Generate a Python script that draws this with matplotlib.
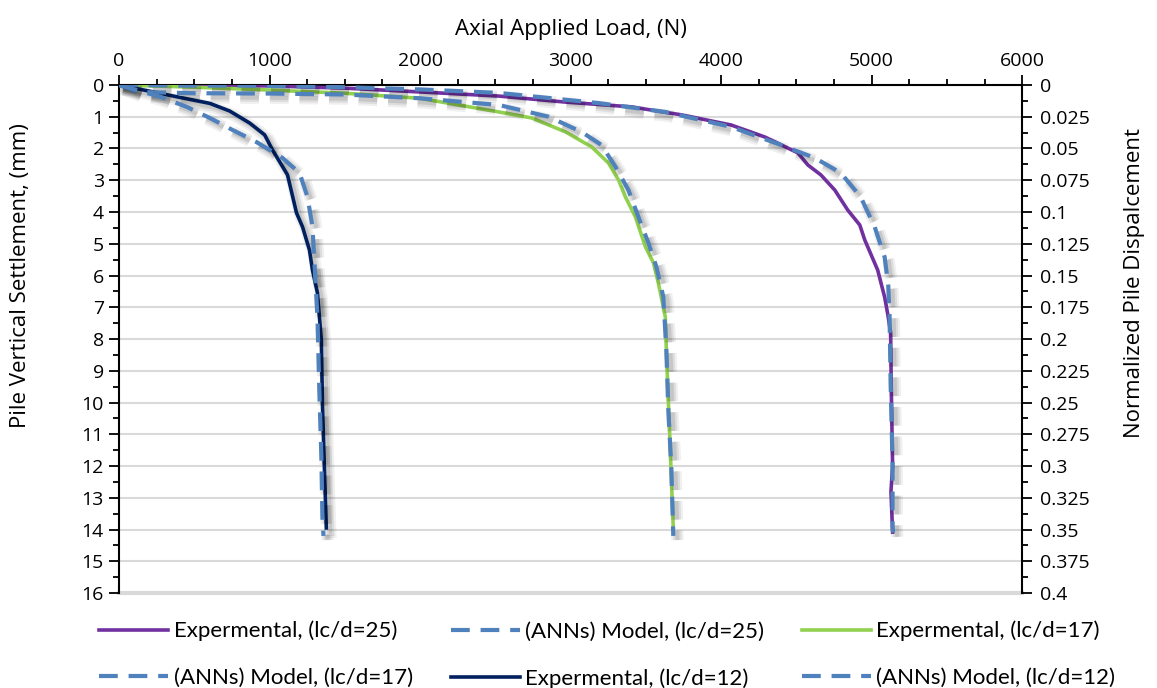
import numpy as np
import matplotlib.pyplot as plt
import matplotlib.patheffects as pe
from matplotlib.ticker import MultipleLocator

# experimental and ANN curves: load (N) vs settlement (mm)
exp25_load = [0, 500, 1000, 1500, 2000, 2523, 2967, 3404, 3735, 4066, 4291, 4510, 4576, 4662,
              4755, 4841, 4921, 4954, 5040, 5086, 5106, 5126, 5130, 5139, 5128, 5139]
exp25_set = [0, 0.01, 0.03, 0.1, 0.22, 0.35, 0.54, 0.69, 0.94, 1.26, 1.64, 2.14, 2.52, 2.83,
             3.31, 3.94, 4.41, 4.88, 5.83, 6.68, 7.2, 7.8, 9.5, 12.0, 12.8, 14.08]
ann25_load = [0, 400, 850, 1500, 2000, 2523, 3185, 3629, 4066, 4397, 4623, 4795, 4927, 5020,
              5086, 5110, 5119, 5126, 5139, 5139, 5142]
ann25_set = [0, 0.02, 0.02, 0.07, 0.14, 0.25, 0.57, 0.85, 1.32, 1.89, 2.3, 2.77, 3.53, 4.47,
             5.42, 6.3, 7.3, 9.4, 12.0, 13.9, 14.1]

exp17_load = [0, 500, 1000, 1500, 2000, 2523, 2742, 2967, 3139, 3252, 3318, 3364, 3430, 3497,
              3550, 3583, 3629, 3636, 3662, 3682]
exp17_set = [0, 0.07, 0.16, 0.26, 0.42, 0.85, 1.04, 1.48, 1.95, 2.46, 2.99, 3.53, 4.15, 5.1,
             5.6, 6.24, 7.3, 8.35, 11.5, 13.95]
ann17_load = [0, 120, 500, 1000, 1500, 2000, 2523, 2854, 3073, 3205, 3298, 3384, 3450, 3517,
              3570, 3616, 3636, 3649, 3669, 3682]
ann17_set = [0, 0.22, 0.26, 0.27, 0.3, 0.42, 0.63, 1.0, 1.48, 1.89, 2.58, 3.31, 4.15, 4.98,
             5.73, 6.68, 8.35, 10.24, 12.03, 14.2]

exp12_load = [0, 382, 603, 735, 868, 967, 1020, 1119, 1179, 1219, 1265, 1285, 1318, 1344,
              1351, 1364, 1377]
exp12_set = [0, 0.37, 0.58, 0.82, 1.2, 1.57, 2.05, 2.83, 4.03, 4.47, 5.2, 5.83, 6.55, 8.03,
             10.0, 12.03, 13.95]
ann12_load = [0, 272, 450, 603, 755, 914, 1086, 1199, 1252, 1285, 1298, 1318, 1331, 1344,
              1351, 1358]
ann12_set = [0, 0.37, 0.69, 1.04, 1.42, 1.8, 2.3, 2.77, 3.53, 4.47, 5.6, 7.3, 9.7, 11.7,
             13.6, 14.2]

labels = ["Expermental, (lc/d=25)", "(ANNs) Model, (lc/d=25)", "Expermental, (lc/d=17)",
          "(ANNs) Model, (lc/d=17)", "Expermental, (lc/d=12)", "(ANNs) Model, (lc/d=12)"]

purple = "#7030A0"
green = "#92D050"
navy = "#002060"
blue = "#4F81BD"

plt.rcParams['font.family'] = ['Open Sans', 'DejaVu Sans']

fig = plt.figure(figsize=(11.57, 6.88), dpi=100)
ax = fig.add_axes([0.1029, 0.138, 0.7806, 0.7385])


def shadow(w):
    return [pe.SimpleLineShadow(offset=(3, -3), shadow_color="k", alpha=0.06, linewidth=w + 6),
            pe.SimpleLineShadow(offset=(3, -3), shadow_color="k", alpha=0.08, linewidth=w + 3),
            pe.SimpleLineShadow(offset=(3, -3), shadow_color="k", alpha=0.10, linewidth=w),
            pe.Normal()]


dash = (0, (4.5, 2.6))
h = []
h.append(ax.plot(exp25_load, exp25_set, color=purple, lw=2.6, zorder=3)[0])
h.append(ax.plot(ann25_load, ann25_set, color=blue, lw=3, ls=dash, zorder=4,
                 path_effects=shadow(3))[0])
h.append(ax.plot(exp17_load, exp17_set, color=green, lw=2.6, zorder=3)[0])
h.append(ax.plot(ann17_load, ann17_set, color=blue, lw=3, ls=dash, zorder=4,
                 path_effects=shadow(3))[0])
h.append(ax.plot(exp12_load, exp12_set, color=navy, lw=2.6, zorder=3,
                 path_effects=shadow(2.6))[0])
h.append(ax.plot(ann12_load, ann12_set, color=blue, lw=3, ls=dash, zorder=4,
                 path_effects=shadow(3))[0])

ax.set_xlim(0, 6000)
ax.set_ylim(16, 0)
ax.xaxis.tick_top()
ax.xaxis.set_label_position("top")
ax.xaxis.set_major_locator(MultipleLocator(1000))
ax.xaxis.set_minor_locator(MultipleLocator(250))
ax.yaxis.set_major_locator(MultipleLocator(1))
ax.yaxis.set_minor_locator(MultipleLocator(0.5))
ax.grid(True, axis="y", which="major", color="#d9d9d9", lw=1.5, zorder=0)
ax.axhline(16, color="#d9d9d9", lw=3, zorder=0, clip_on=False)
ax.tick_params(which="major", direction="out", length=7, width=1.3, labelsize=14, pad=4)
ax.tick_params(which="minor", direction="out", length=4, width=1.3)
ax.spines["bottom"].set_visible(False)
ax.spines["right"].set_visible(False)
for s in ["top", "left"]:
    ax.spines[s].set_linewidth(1.5)
ax.set_xlabel("Axial Applied Load, (N)", fontsize=16, labelpad=12)
ax.set_ylabel("Pile Vertical Settlement, (mm)", fontsize=16)
ax.yaxis.set_label_coords(-0.098, 0.624)

ax2 = ax.twinx()
ax2.set_ylim(0.4, 0)
ax2.yaxis.set_major_locator(MultipleLocator(0.025))
ax2.yaxis.set_minor_locator(MultipleLocator(0.0125))
ax2.set_yticklabels([f"{v:g}" for v in ax2.get_yticks()])
ax2.tick_params(which="major", direction="out", length=7, width=1.3, labelsize=14, pad=6)
ax2.tick_params(which="minor", direction="out", length=4, width=1.3)
for s in ["top", "left", "bottom"]:
    ax2.spines[s].set_visible(False)
ax2.spines["right"].set_linewidth(1.5)
ax2.set_ylabel("Normalized Pile Dispalcement", fontsize=16)
ax2.yaxis.set_label_coords(1.113, 0.61)

order = [0, 3, 1, 4, 2, 5]
leg = fig.legend([h[i] for i in order], [labels[i] for i in order], ncol=3,
                 loc="lower center", bbox_to_anchor=(0.525, -0.03), frameon=False,
                 prop={"family": "Lato", "size": 16}, handlelength=3.1, columnspacing=1.7,
                 labelspacing=1.2, handletextpad=0.25)
for l in leg.get_lines():
    l.set_path_effects([])

fig.savefig("out.png", dpi=100)
